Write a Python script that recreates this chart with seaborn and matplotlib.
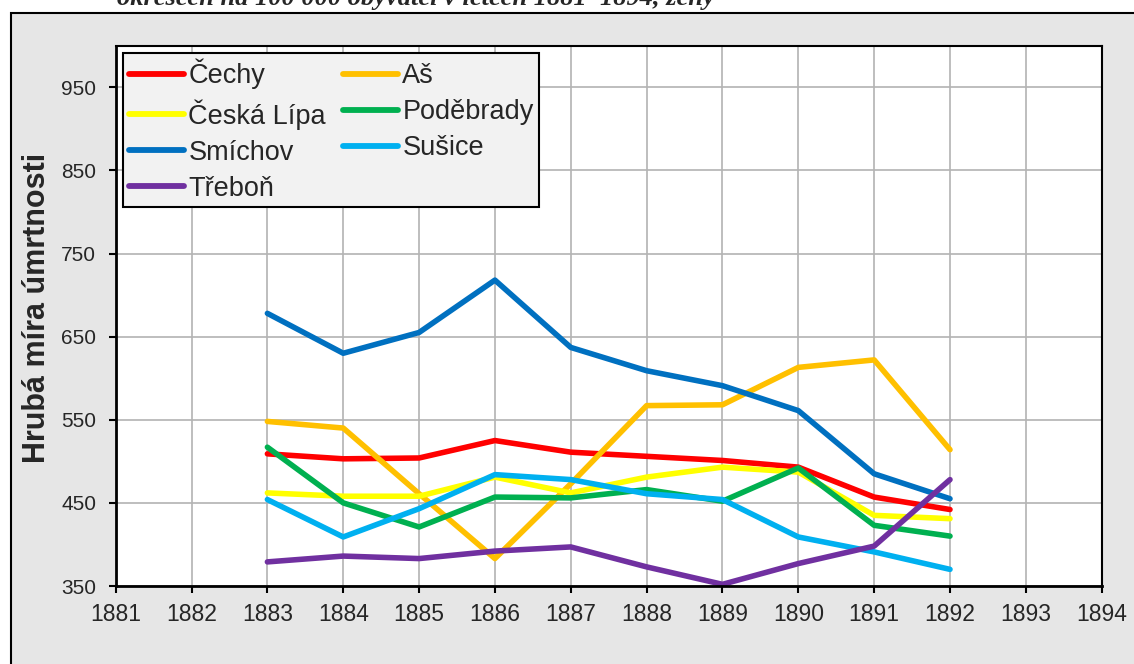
import matplotlib
matplotlib.use("Agg")
import matplotlib.pyplot as plt
from matplotlib.patches import Rectangle
import pandas as pd
import seaborn as sns

years = list(range(1883, 1893))
cechy = [509, 503, 504, 525, 511, 506, 501, 493, 457, 442]
as_ = [548, 540, 461, 383, 473, 567, 568, 613, 622, 514]
ceska_lipa = [462, 458, 458, 481, 462, 481, 493, 487, 435, 431]
podebrady = [517, 450, 421, 457, 456, 466, 452, 492, 423, 410]
smichov = [678, 630, 655, 718, 637, 609, 591, 561, 485, 455]
susice = [454, 409, 443, 484, 478, 461, 454, 409, 391, 370]
trebon = [379, 386, 383, 392, 397, 373, 352, 377, 398, 478]

regions = ["Čechy", "Aš", "Česká Lípa", "Poděbrady", "Smíchov", "Sušice", "Třeboň"]
series = [cechy, as_, ceska_lipa, podebrady, smichov, susice, trebon]
colors = ["#ff0000", "#ffc000", "#ffff00", "#00b050", "#0070c0", "#00b0f0", "#7030a0"]

x_ticks = list(range(1881, 1895))
y_ticks = list(range(350, 1000, 100))

caption = "okresech na 100 000 obyvatel v letech 1881–1894, ženy"
y_label = "Hrubá míra úmrtnosti"

df = pd.DataFrame(
  [(r, y, v) for r, vals in zip(regions, series) for y, v in zip(years, vals)],
  columns=["region", "year", "value"],
)

sns.set_theme(style="white")
plt.rcParams["font.family"] = ["Liberation Sans", "DejaVu Sans"]

fig = plt.figure(figsize=(11.34, 6.64), dpi=100)
fig.patch.set_facecolor("white")
fig.patches.append(Rectangle((11 / 1134, -0.05), 1.2, 1 - 12.7 / 664 + 0.05,
                             transform=fig.transFigure, facecolor="#e6e6e6",
                             edgecolor="black", linewidth=1.5, zorder=-5))
fig.text(117 / 1134, 1 - 5 / 664, caption, va="baseline", ha="left",
         family="Liberation Serif", style="italic", weight="bold", fontsize=19)

ax = fig.add_axes([115.7 / 1134, 78 / 664, 986 / 1134, 540.3 / 664])
ax.set_zorder(2)
ax.set_facecolor("white")

sns.lineplot(data=df, x="year", y="value", hue="region", hue_order=regions,
             palette=dict(zip(regions, colors)), linewidth=4, ax=ax,
             legend=True)
for line in ax.get_lines():
  line.set_solid_capstyle("round")
  line.set_solid_joinstyle("round")

ax.set_xlim(1881, 1894)
ax.set_ylim(350, 1000)
ax.set_xticks(x_ticks)
ax.set_yticks(y_ticks)
ax.set_xticklabels([str(t) for t in x_ticks], fontsize=16.5)
ax.set_yticklabels([str(t) for t in y_ticks], fontsize=15)
ax.tick_params(axis="both", direction="out", length=5, width=1.5, color="black",
               bottom=True, left=True)
ax.tick_params(axis="x", pad=7)
ax.tick_params(axis="y", pad=9)
ax.grid(True, color="#b3b3b3", linewidth=1.2)
ax.set_axisbelow(True)
for s in ax.spines.values():
  s.set_color("black")
  s.set_linewidth(1.5)
ax.spines["bottom"].set_linewidth(2)
ax.spines["left"].set_linewidth(2)

ax.set_xlabel("")
ax.set_ylabel(y_label, fontsize=22, fontweight="bold")
ax.yaxis.set_label_coords(-0.065, 0.515)

handles, labels = ax.get_legend_handles_labels()
lookup = dict(zip(labels, handles))
order = ["Čechy", "Česká Lípa", "Smíchov", "Třeboň", "Aš", "Poděbrady", "Sušice"]
leg = ax.legend([lookup[k] for k in order], order, loc="upper left", ncol=2,
                fontsize=19.5, frameon=True, fancybox=False, framealpha=1,
                facecolor="#f2f2f2", edgecolor="black", borderaxespad=0.28,
                borderpad=0.2, labelspacing=0.37, handlelength=2.05,
                handletextpad=0.15, columnspacing=0.62)
leg.get_frame().set_linewidth(1.5)
for h in leg.get_lines():
  h.set_linewidth(4.2)
  h.set_solid_capstyle("round")

fig.savefig("out.png", dpi=100)
